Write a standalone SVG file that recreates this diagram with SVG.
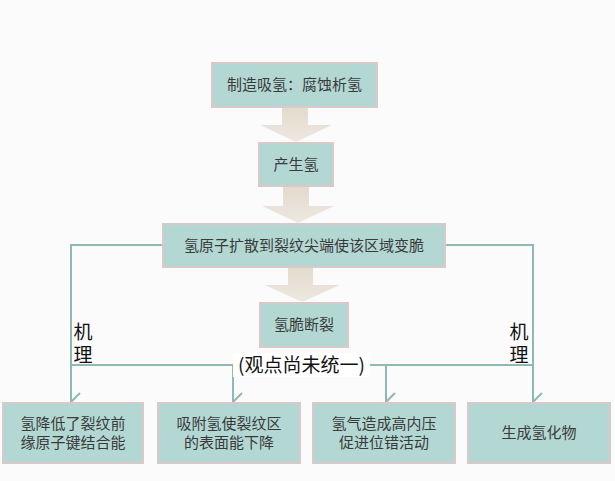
<svg xmlns="http://www.w3.org/2000/svg" width="615" height="481" viewBox="0 0 615 481">
<defs>
<linearGradient id="ag" x1="0" y1="0" x2="0" y2="1">
<stop offset="0" stop-color="#e4dacd"/>
<stop offset="1" stop-color="#eee8e0"/>
</linearGradient>
<marker id="chev" viewBox="0 0 20 12" refX="10" refY="11" markerWidth="20" markerHeight="12" markerUnits="userSpaceOnUse" orient="auto-start-reverse">
<path d="M1,2 L10,11 L19,2" fill="none" stroke="#8fb9b3" stroke-width="2"/>
</marker>
<style>
.box{fill:#b3d8d3;stroke:#dac9c9;stroke-width:2}
.t{font-family:"Noto Sans CJK SC","Noto Sans",sans-serif;font-size:15px;fill:#3a3a3a;text-anchor:middle}
.lbl{font-family:"Noto Sans CJK SC","Noto Sans",sans-serif;font-size:19px;fill:#111}
.vl{writing-mode:vertical-rl;letter-spacing:4px}
.ln{fill:none;stroke:#8fb9b3;stroke-width:2}
.ar{fill:url(#ag)}
</style>
</defs>
<rect width="615" height="481" fill="#fbfbfb"/>
<g id="block-arrows">
<polygon class="ar" points="282,107 308,107 308,125 332,125 296,142 260,125 282,125"/>
<polygon class="ar" points="283,187 309,187 309,206 334,206 298,223 262,206 283,206"/>
<polygon class="ar" points="288,268 313,268 313,285 340,285 302,302 265,285 288,285"/>
</g>
<g id="connectors">
<polyline class="ln" points="163,245 71,245 71,402" marker-end="url(#chev)"/>
<polyline class="ln" points="445,245 533,245 533,402" marker-end="url(#chev)"/>
<line class="ln" x1="71" y1="365" x2="533" y2="365"/>
<line class="ln" x1="233" y1="365" x2="233" y2="402" marker-end="url(#chev)"/>
<line class="ln" x1="386" y1="365" x2="386" y2="402" marker-end="url(#chev)"/>
</g>
<g id="n1"><rect class="box" x="212" y="63" width="165" height="44"/><text class="t" x="294.5" y="90">制造吸氢：腐蚀析氢</text></g>
<g id="n2"><rect class="box" x="259" y="143" width="74" height="43"/><text class="t" x="296" y="170">产生氢</text></g>
<g id="n3"><rect class="box" x="163" y="224" width="282" height="43"/><text class="t" x="304" y="251">氢原子扩散到裂纹尖端使该区域变脆</text></g>
<g id="n4"><rect class="box" x="260" y="303" width="88" height="44"/><text class="t" x="304" y="330">氢脆断裂</text></g>
<g id="note"><rect x="233" y="353" width="137" height="24" fill="#ffffff"/><text class="lbl" x="301.5" y="372" text-anchor="middle">(观点尚未统一)</text></g>
<g id="lbl-left"><text class="lbl vl" x="83" y="322">机理</text></g>
<g id="lbl-right"><text class="lbl vl" x="519" y="322">机理</text></g>
<g id="b1"><rect class="box" x="3" y="403" width="140" height="60"/><text class="t" x="73" y="429">氢降低了裂纹前</text><text class="t" x="73" y="448">缘原子键结合能</text></g>
<g id="b2"><rect class="box" x="158" y="403" width="142" height="60"/><text class="t" x="229" y="429">吸附氢使裂纹区</text><text class="t" x="229" y="448">的表面能下降</text></g>
<g id="b3"><rect class="box" x="313" y="403" width="142" height="60"/><text class="t" x="384" y="429">氢气造成高内压</text><text class="t" x="384" y="448">促进位错活动</text></g>
<g id="b4"><rect class="box" x="468" y="403" width="142" height="60"/><text class="t" x="539" y="438">生成氢化物</text></g>
</svg>
